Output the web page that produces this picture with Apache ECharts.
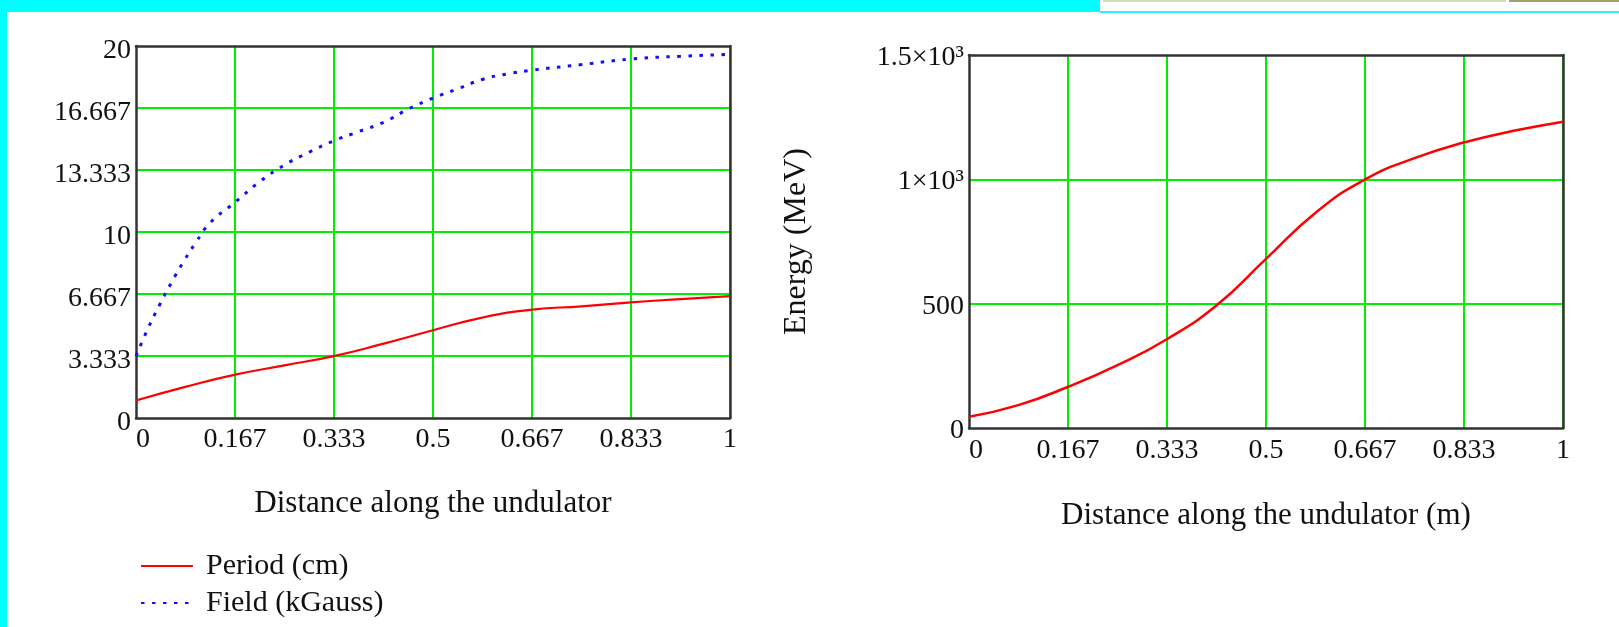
<!DOCTYPE html>
<html>
<head>
<meta charset="utf-8">
<script src="https://cdn.jsdelivr.net/npm/echarts@6/dist/echarts.min.js"></script>
<style>
  html, body { margin: 0; padding: 0; background: #ffffff; }
  #chart { width: 1619px; height: 627px; }
</style>
</head>
<body>
<div id="chart"></div>
<script>
// Undulator taper profile: period and field along the undulator (left),
// beam energy along the undulator (right).
const periodDist = [0, 0.083, 0.167, 0.25, 0.333, 0.417, 0.5, 0.583, 0.667, 0.75, 0.833, 0.917, 1];
const periodCm   = [0.94, 1.67, 2.33, 2.83, 3.33, 4.0, 4.72, 5.4, 5.83, 6.0, 6.22, 6.39, 6.55];

const fieldDist   = [0, 0.02, 0.04, 0.06, 0.08, 0.1, 0.125, 0.167, 0.208, 0.25, 0.292, 0.333, 0.375, 0.417, 0.458, 0.5, 0.542, 0.583, 0.625, 0.667, 0.75, 0.833, 0.917, 1];
const fieldKGauss = [3.33, 4.8, 6.1, 7.3, 8.4, 9.4, 10.5, 11.6, 12.7, 13.6, 14.3, 14.9, 15.4, 15.9, 16.6, 17.2, 17.7, 18.2, 18.5, 18.7, 19.0, 19.3, 19.45, 19.55];

const energyDist = [0, 0.083, 0.167, 0.25, 0.333, 0.417, 0.5, 0.583, 0.667, 0.75, 0.833, 0.917, 1];
const energyMeV  = [45, 92, 166, 253, 357, 494, 680, 865, 1000, 1085, 1148, 1195, 1232];

const energyTickLabels = { 0: '0', 500: '500', 1000: '1×10³', 1500: '1.5×10³' };

const pairs = (xs, ys) => xs.map((x, i) => [x, ys[i]]);
const round3 = v => String(Math.round(v * 1000) / 1000);

const FONT = 'Liberation Serif';
const GREEN = '#00ee00';
const FRAME = '#333333';
const INK = '#111111';

const tickLabel = { fontFamily: FONT, fontSize: 28, color: INK };
const gridLines = { show: true, showMinLine: false, showMaxLine: false, lineStyle: { color: GREEN, width: 2 } };
const frameLine = { show: true, onZero: false, lineStyle: { color: FRAME, width: 2.5 } };

// Plain axes that only draw the top / right edges of each plot frame.
function frameAxis(gridIndex, position, min, max) {
  return {
    gridIndex, position, type: 'value', min, max,
    axisLine: frameLine, axisTick: { show: false }, axisLabel: { show: false },
    splitLine: { show: false }
  };
}

const chart = echarts.init(document.getElementById('chart'), null, { renderer: 'canvas' });

chart.setOption({
  backgroundColor: '#ffffff',
  animation: false,
  graphic: [
    // page frame strips
    { type: 'rect', shape: { x: 0, y: 0, width: 7, height: 627 }, style: { fill: '#00ffff' }, z: 100 },
    { type: 'rect', shape: { x: 0, y: 0, width: 1100, height: 12 }, style: { fill: '#00ffff' }, z: 100 },
    { type: 'rect', shape: { x: 1100, y: 11, width: 519, height: 2 }, style: { fill: '#33eeff' }, z: 100 },
    { type: 'rect', shape: { x: 1103, y: 0, width: 403, height: 2 }, style: { fill: '#d6dbb2' }, z: 100 },
    { type: 'rect', shape: { x: 1509, y: 0, width: 110, height: 2 }, style: { fill: '#a3a06e' }, z: 100 }
  ],
  legend: {
    data: ['Period (cm)', 'Field (kGauss)'],
    orient: 'vertical',
    left: 135,
    top: 546,
    itemWidth: 52,
    itemHeight: 14,
    itemGap: 7,
    itemStyle: { opacity: 0 },
    textStyle: { fontFamily: FONT, fontSize: 30, color: INK, lineHeight: 30, padding: [0, 0, 0, 8] }
  },
  grid: [
    { left: 136, top: 46, width: 594, height: 372 },
    { left: 969, top: 55, width: 594, height: 373 }
  ],
  xAxis: [
    {
      gridIndex: 0, type: 'value', min: 0, max: 1, interval: 1 / 6, position: 'bottom',
      name: 'Distance along the undulator', nameLocation: 'middle', nameGap: 70,
      nameTextStyle: { fontFamily: FONT, fontSize: 31, color: INK },
      axisLine: frameLine, axisTick: { show: false },
      axisLabel: Object.assign({ margin: 8, formatter: round3, alignMinLabel: 'left' }, tickLabel),
      splitLine: gridLines
    },
    {
      gridIndex: 1, type: 'value', min: 0, max: 1, interval: 1 / 6, position: 'bottom',
      name: 'Distance along the undulator (m)', nameLocation: 'middle', nameGap: 72,
      nameTextStyle: { fontFamily: FONT, fontSize: 31, color: INK },
      axisLine: frameLine, axisTick: { show: false },
      axisLabel: Object.assign({ margin: 9, formatter: round3, alignMinLabel: 'left' }, tickLabel),
      splitLine: gridLines
    },
    frameAxis(0, 'top', 0, 1),
    frameAxis(1, 'top', 0, 1)
  ],
  yAxis: [
    {
      gridIndex: 0, type: 'value', min: 0, max: 20, interval: 20 / 6, position: 'left',
      axisLine: frameLine, axisTick: { show: false },
      axisLabel: Object.assign({ margin: 5, formatter: round3, verticalAlign: 'top', lineHeight: 10 }, tickLabel),
      splitLine: gridLines
    },
    {
      gridIndex: 1, type: 'value', min: 0, max: 1500, interval: 500, position: 'left',
      name: 'Energy (MeV)', nameLocation: 'middle', nameGap: 156, nameRotate: 90,
      nameTextStyle: { fontFamily: FONT, fontSize: 32, color: INK },
      axisLine: frameLine, axisTick: { show: false },
      axisLabel: Object.assign({ margin: 5, formatter: v => energyTickLabels[v] ?? String(v), verticalAlign: 'top', lineHeight: 5 }, tickLabel),
      splitLine: gridLines
    },
    frameAxis(0, 'right', 0, 20),
    frameAxis(1, 'right', 0, 1500)
  ],
  series: [
    {
      name: 'Period (cm)', type: 'line', xAxisIndex: 0, yAxisIndex: 0,
      data: pairs(periodDist, periodCm), smooth: true, symbol: 'none',
      lineStyle: { color: '#ff0000', width: 2.2 }, itemStyle: { color: '#ff0000' }, z: 3
    },
    {
      name: 'Field (kGauss)', type: 'line', xAxisIndex: 0, yAxisIndex: 0,
      data: pairs(fieldDist, fieldKGauss), smooth: true, symbol: 'none',
      lineStyle: { color: '#1010ff', width: 3, type: [3.5, 7.5] }, itemStyle: { color: '#1010ff' }, z: 3
    },
    {
      name: 'Energy', type: 'line', xAxisIndex: 1, yAxisIndex: 1,
      data: pairs(energyDist, energyMeV), smooth: true, symbol: 'none',
      lineStyle: { color: '#ff0000', width: 2.5 }, z: 3
    }
  ]
});
</script>
</body>
</html>
